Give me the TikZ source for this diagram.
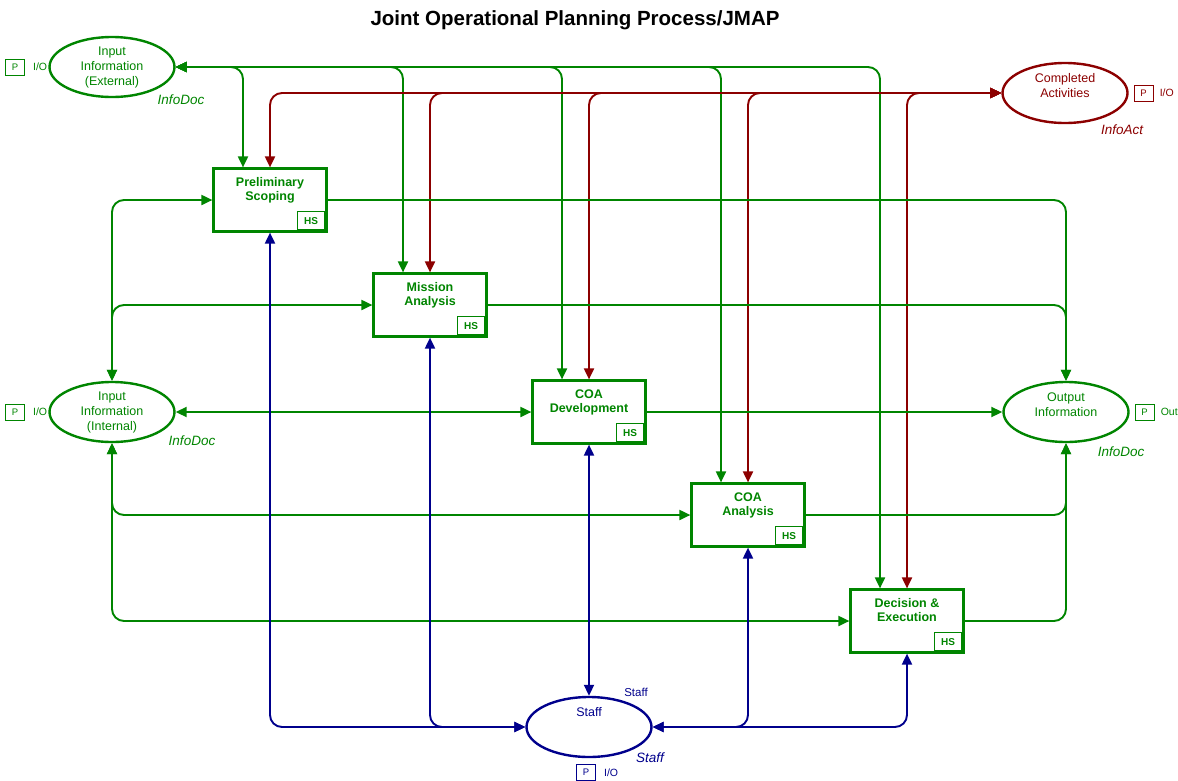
\documentclass[tikz,border=0pt]{standalone}
\usepackage{fontspec}
\setmainfont{Liberation Sans}
\usetikzlibrary{arrows.meta,positioning,shapes.geometric}
\definecolor{netgreen}{rgb}{0.0,0.52,0.0}
\definecolor{netred}{rgb}{0.55,0.0,0.0}
\definecolor{netblue}{rgb}{0.0,0.0,0.55}
\tikzset{
  transbox/.style={draw=netgreen, line width=2.2pt, fill=white, minimum width=113pt, minimum height=63pt, inner sep=0pt},
  transtext/.style={text=netgreen, font=\fontsize{12.5}{14}\selectfont\bfseries, align=center, inner sep=1pt},
  hsbox/.style={draw=netgreen, line width=1pt, text=netgreen, font=\fontsize{10}{10}\selectfont\bfseries, minimum width=27pt, minimum height=18pt, inner sep=0pt},
  placenode/.style={ellipse, line width=2.4pt, fill=white, minimum width=125pt, minimum height=60pt, inner sep=0pt, align=center, font=\fontsize{12.5}{15}\selectfont},
  pbox/.style={draw, line width=0.9pt, minimum width=19pt, minimum height=16pt, inner sep=0pt, font=\fontsize{9.5}{10}\selectfont},
  iotext/.style={inner sep=1pt, font=\fontsize{10.5}{11}\selectfont},
  typetext/.style={inner sep=0pt, font=\fontsize{13.5}{14}\selectfont\itshape},
  arcone/.style={line width=1.9pt, rounded corners=12pt, ->},
  arcboth/.style={line width=1.9pt, rounded corners=12pt, <->},
}
\begin{document}
\begin{tikzpicture}[x=1pt,y=-1pt,>={Triangle[length=11pt,width=10pt]}]
      \useasboundingbox (0,0) rectangle (1178,780);
      \node[font=\fontsize{20.5}{22}\selectfont\bfseries] (title) at (575,20) {Joint Operational Planning Process/JMAP};

      \node[placenode, draw=netgreen, text=netgreen] (EXT) at (112,67) {Input\\Information\\(External)};
      \node[placenode, draw=netgreen, text=netgreen] (INT) at (112,412) {Input\\Information\\(Internal)};
      \node[placenode, draw=netred, text=netred] (COMP) at (1065,93) {Completed\\Activities\\\mbox{}};
      \node[placenode, draw=netgreen, text=netgreen] (OUT) at (1066,412) {Output\\Information\\\mbox{}};
      \node[placenode, draw=netblue] (STAFF) at (589,727) {};
      \node[text=netblue, font=\fontsize{12.5}{14}\selectfont, inner sep=1pt, below=10pt of STAFF.north] (STAFF-t) {Staff};

      \node[iotext, text=netgreen, left=0pt of EXT.west] (EXT-io) {I/O};
      \node[pbox, draw=netgreen, text=netgreen, left=7pt of EXT-io] (EXT-p) {P};
      \node[iotext, text=netgreen, left=0pt of INT.west] (INT-io) {I/O};
      \node[pbox, draw=netgreen, text=netgreen, left=7pt of INT-io] (INT-p) {P};
      \node[pbox, draw=netred, text=netred, right=5pt of COMP.east] (COMP-p) {P};
      \node[iotext, text=netred, right=5pt of COMP-p] (COMP-io) {I/O};
      \node[pbox, draw=netgreen, text=netgreen, right=5pt of OUT.east] (OUT-p) {P};
      \node[iotext, text=netgreen, right=5pt of OUT-p] (OUT-io) {Out};
      \node[pbox, draw=netblue, text=netblue, below=6pt of STAFF.south, xshift=-3pt] (STAFF-p) {P};
      \node[iotext, text=netblue, right=7pt of STAFF-p] (STAFF-io) {I/O};

      \node[typetext, text=netgreen] (EXT-type) at (181,100) {InfoDoc};
      \node[typetext, text=netgreen] (INT-type) at (192,441) {InfoDoc};
      \node[typetext, text=netgreen] (OUT-type) at (1121,452) {InfoDoc};
      \node[typetext, text=netred] (COMP-type) at (1122,130) {InfoAct};
      \node[text=netblue, font=\fontsize{11.5}{12}\selectfont, inner sep=0pt] (STAFF-col) at (636,692) {Staff};
      \node[typetext, text=netblue] (STAFF-type) at (650,758) {Staff};

      \node[transbox] (PS) at (270,200) {};
      \node[transtext, below=9pt of PS.north] (PS-t) {Preliminary\\Scoping};
      \node[hsbox, anchor=south east] (PS-hs) at ([xshift=-2.5pt,yshift=2.5pt]PS.south east) {HS};
      \node[transbox] (MA) at (430,305) {};
      \node[transtext, below=9pt of MA.north] (MA-t) {Mission\\Analysis};
      \node[hsbox, anchor=south east] (MA-hs) at ([xshift=-2.5pt,yshift=2.5pt]MA.south east) {HS};
      \node[transbox] (CD) at (589,412) {};
      \node[transtext, below=9pt of CD.north] (CD-t) {COA\\Development};
      \node[hsbox, anchor=south east] (CD-hs) at ([xshift=-2.5pt,yshift=2.5pt]CD.south east) {HS};
      \node[transbox] (CA) at (748,515) {};
      \node[transtext, below=9pt of CA.north] (CA-t) {COA\\Analysis};
      \node[hsbox, anchor=south east] (CA-hs) at ([xshift=-2.5pt,yshift=2.5pt]CA.south east) {HS};
      \node[transbox] (DE) at (907,621) {};
      \node[transtext, below=9pt of DE.north] (DE-t) {Decision \&\\Execution};
      \node[hsbox, anchor=south east] (DE-hs) at ([xshift=-2.5pt,yshift=2.5pt]DE.south east) {HS};

      % external input
      \draw[arcboth, netgreen] (EXT.east) -| ([xshift=-27pt]PS.north);
      \draw[arcboth, netgreen] (EXT.east) -| ([xshift=-27pt]MA.north);
      \draw[arcboth, netgreen] (EXT.east) -| ([xshift=-27pt]CD.north);
      \draw[arcboth, netgreen] (EXT.east) -| ([xshift=-27pt]CA.north);
      \draw[arcboth, netgreen] (EXT.east) -| ([xshift=-27pt]DE.north);
      % completed activities
      \draw[arcboth, netred] (COMP.west) -| (PS.north);
      \draw[arcboth, netred] (COMP.west) -| (MA.north);
      \draw[arcboth, netred] (COMP.west) -| (CD.north);
      \draw[arcboth, netred] (COMP.west) -| (CA.north);
      \draw[arcboth, netred] (COMP.west) -| (DE.north);
      % internal input
      \draw[arcboth, netgreen] (INT.north) |- (PS.west);
      \draw[arcboth, netgreen] (INT.north) |- (MA.west);
      \draw[arcboth, netgreen] (INT.east) -- (CD.west);
      \draw[arcboth, netgreen] (INT.south) |- (CA.west);
      \draw[arcboth, netgreen] (INT.south) |- (DE.west);
      % output
      \draw[arcone, netgreen] (PS.east) -| (OUT.north);
      \draw[arcone, netgreen] (MA.east) -| (OUT.north);
      \draw[arcone, netgreen] (CD.east) -- (OUT.west);
      \draw[arcone, netgreen] (CA.east) -| (OUT.south);
      \draw[arcone, netgreen] (DE.east) -| (OUT.south);
      % staff
      \draw[arcboth, netblue] (STAFF.west) -| (PS.south);
      \draw[arcboth, netblue] (STAFF.west) -| (MA.south);
      \draw[arcboth, netblue] (STAFF.north) -- (CD.south);
      \draw[arcboth, netblue] (STAFF.east) -| (CA.south);
      \draw[arcboth, netblue] (STAFF.east) -| (DE.south);
\end{tikzpicture}
\end{document}
